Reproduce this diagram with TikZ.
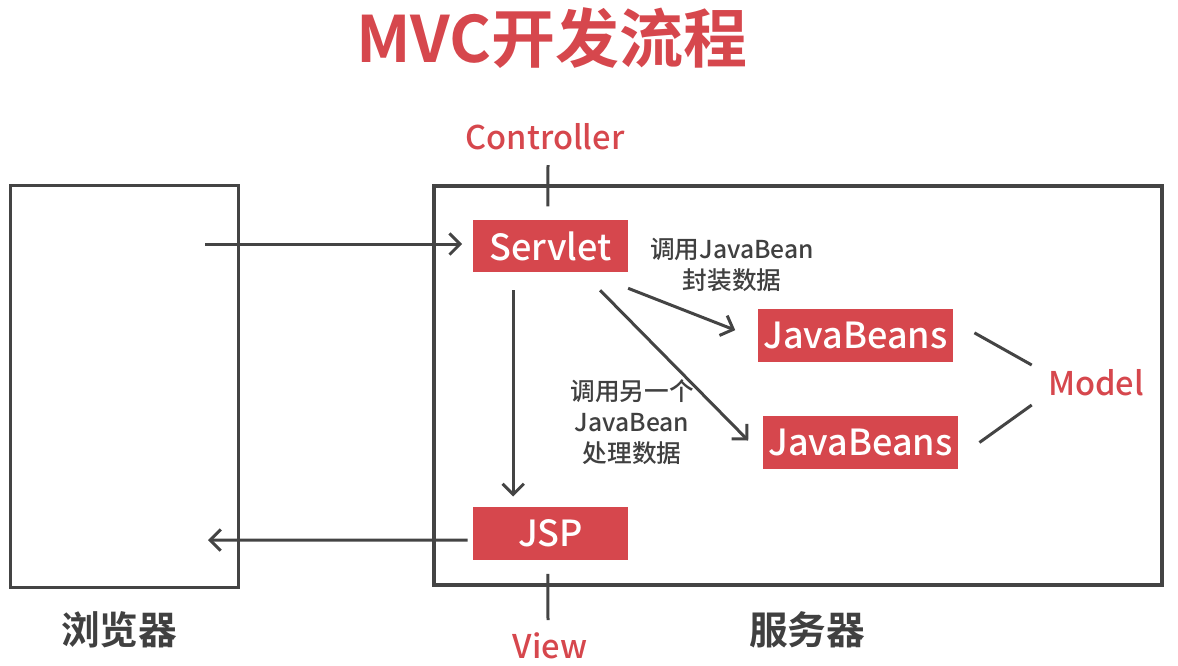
\documentclass[tikz,border=0pt]{standalone}
\usepackage{fontspec}
\setmainfont{Noto Sans CJK SC}[UprightFont={* Medium}, BoldFont={* Bold}]
\usetikzlibrary{arrows.meta}
\definecolor{mvcred}{RGB}{214,71,77}
\definecolor{linegray}{RGB}{68,68,68}
\definecolor{textgray}{RGB}{64,64,64}
\tikzset{
  redbox/.style={fill=mvcred, text=white, inner sep=0pt, font=\fontsize{27}{30}\selectfont},
  tag/.style={text=mvcred, inner sep=0pt, font=\fontsize{24.5}{28}\selectfont},
  note/.style={text=textgray, inner sep=0pt, align=center, font=\fontsize{18.5}{23}\selectfont},
  arr/.style={draw=linegray, line width=2.25pt, -{Straight Barb[length=8pt,width=16pt]}},
  plain/.style={draw=linegray, line width=2.25pt},
}
\begin{document}
\begin{tikzpicture}[x=0.75pt,y=0.75pt,yscale=-1]
\useasboundingbox (0,0) rectangle (1178,665);

% title
\node[text=mvcred, inner sep=0pt, font=\fontsize{48}{52}\selectfont\bfseries] (title) at (552,38) {MVC开发流程};

% browser and server
\draw[linegray, line width=2.25pt] (10,185) rectangle (238,587);
\draw[linegray, line width=3pt] (434,186) rectangle (1162,585);
\node[text=textgray, inner sep=0pt, font=\fontsize{29}{32}\selectfont\bfseries] (browser) at (119,630) {浏览器};
\node[text=textgray, inner sep=0pt, font=\fontsize{29}{32}\selectfont\bfseries] (server) at (807,630) {服务器};
\coordinate (req) at (205,244);
\coordinate (resp) at (208,540);

% red boxes
\node[redbox, minimum width=116pt, minimum height=39pt] (servlet) at (550.5,246) {Servlet};
\node[redbox, minimum width=116pt, minimum height=40pt] (jsp) at (550.5,533.5) {JSP};
\node[redbox, minimum width=146pt, minimum height=40pt] (jb1) at (855.5,335.5) {JavaBeans};
\node[redbox, minimum width=146pt, minimum height=40pt] (jb2) at (860.5,442.5) {JavaBeans};

% tags
\node[tag] (controller) at (545,137) {Controller};
\node[tag] (view) at (550,646) {View};
\node[tag] (model) at (1096,383) {Model};

% notes
\node[note] (note1) at (732,265) {调用JavaBean\\封装数据};
\node[note] (note2) at (632,422) {调用另一个\\JavaBean\\处理数据};

% arrows
\draw[arr] (req) -- ([yshift=-1.5pt,xshift=-8pt]servlet.west);
\draw[arr] ([yshift=5pt,xshift=-4pt]jsp.west) -- (resp);
\draw[arr] ([xshift=-28pt,yshift=13.5pt]servlet.south) -- ([xshift=-28pt,yshift=-7.5pt]jsp.north);
\draw[arr] ([yshift=12pt]servlet.south east) -- ([xshift=-17pt,yshift=-4pt]jb1.west);
\draw[arr] ([xshift=-21pt,yshift=13.5pt]servlet.south east) -- ([xshift=-11pt,yshift=-1.5pt]jb2.west);

% ticks
\draw[plain] (548,165) -- ([xshift=-2pt,yshift=-10pt]servlet.north);
\draw[plain] ([xshift=-2pt,yshift=10pt]jsp.south) -- (548,620);
\draw[plain] ([xshift=16pt,yshift=-2pt]jb1.east) -- ([xshift=-12pt,yshift=-13.5pt]model.west);
\draw[plain] ([xshift=16pt]jb2.east) -- ([xshift=-12pt,yshift=16.5pt]model.west);
\end{tikzpicture}
\end{document}
